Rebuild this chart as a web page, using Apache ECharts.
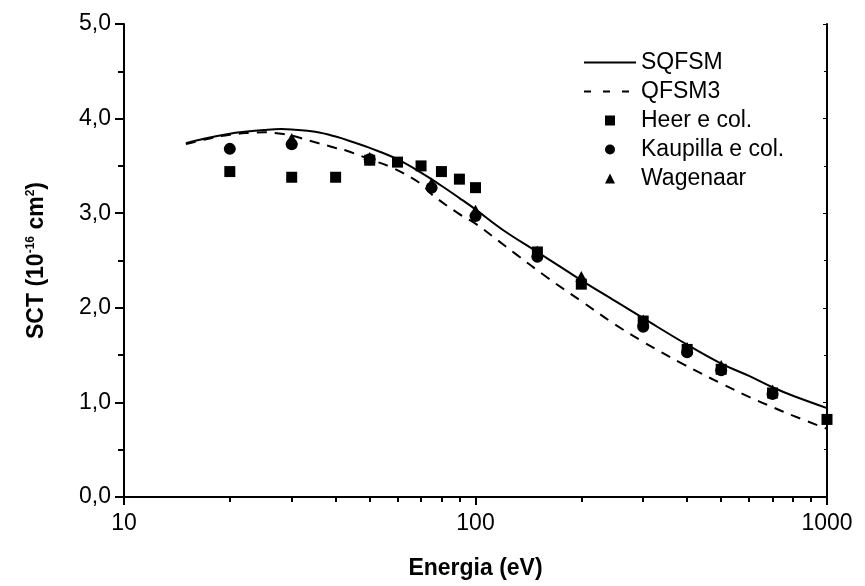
<!DOCTYPE html>
<html><head><meta charset="utf-8">
<script src="https://cdn.jsdelivr.net/npm/echarts@6/dist/echarts.min.js"></script>
<style>html,body{margin:0;padding:0;background:#fff}#c{width:865px;height:586px}</style>
</head><body><div id="c"></div>
<script>
var sqfsm = [[15,3.74],[17,3.79],[20,3.84],[22,3.86],[25,3.88],[28,3.89],[30,3.885],[35,3.86],[40,3.81],[45,3.75],[50,3.69],[60,3.57],[70,3.43],[80,3.29],[90,3.16],[100,3.04],[120,2.82],[150,2.59],[175,2.43],[200,2.29],[250,2.07],[300,1.89],[400,1.61],[500,1.41],[600,1.28],[700,1.16],[800,1.07],[1000,0.94]];
var qfsm3 = [[15,3.73],[17,3.78],[20,3.83],[23,3.85],[25,3.855],[28,3.84],[30,3.82],[35,3.75],[40,3.69],[43,3.66],[50,3.57],[58,3.48],[70,3.31],[75,3.20],[90,2.99],[100,2.89],[116,2.71],[130,2.57],[160,2.32],[200,2.07],[248,1.83],[300,1.64],[392,1.40],[500,1.20],[607,1.05],[700,0.95],[800,0.86],[1000,0.72]];
var heer = [[20,3.44],[30,3.38],[40,3.38],[50,3.56],[60,3.54],[70,3.50],[80,3.44],[90,3.36],[100,3.27],[150,2.59],[200,2.25],[300,1.86],[400,1.56],[500,1.35],[700,1.10],[1000,0.82]];
var kaupilla = [[20,3.68],[30,3.73],[50,3.57],[75,3.27],[100,2.97],[150,2.54],[300,1.80],[400,1.53],[500,1.34],[700,1.09]];
var wagenaar = [[30,3.79],[50,3.59],[75,3.32],[100,3.03],[150,2.60],[200,2.33],[300,1.87],[400,1.58],[500,1.39],[700,1.13]];
var yTicks = ['0,0','1,0','2,0','3,0','4,0','5,0'];
var xTicks = {10:'10',100:'100',1000:'1000'};

var chart = echarts.init(document.getElementById('c'), null, {renderer:'canvas'});
var font = 'Liberation Sans, Arial, sans-serif';
var tri = 'path://M0,10 L5,0 L10,10 Z';
var iconRect = 'path://M0,0 M52,14 M21,2 L31,2 L31,12 L21,12 Z';
var iconCircle = 'path://M0,0 M52,14 M21,7 A5,5 0 1,0 31,7 A5,5 0 1,0 21,7 Z';
var iconTri = 'path://M0,0 M52,14 M21,12 L26,2 L31,12 Z';
var mk = {color:'#000',opacity:1};
chart.setOption({
  animation:false,
  grid:{left:124,right:38,top:24,bottom:89,containLabel:false},
  legend:{
    left:578, top:46, orient:'vertical', itemGap:6, itemWidth:52, itemHeight:14,
    textStyle:{fontFamily:font,fontSize:23,lineHeight:23,color:'#000'},
    data:[
      {name:'SQFSM', itemStyle:{opacity:0}, lineStyle:{width:2,type:'solid',color:'#000'}},
      {name:'QFSM3', itemStyle:{opacity:0}, lineStyle:{width:2,type:[7,12],color:'#000'}},
      {name:'Heer e col.', icon:iconRect, itemStyle:{opacity:1}},
      {name:'Kaupilla e col.', icon:iconCircle, itemStyle:{opacity:1}},
      {name:'Wagenaar', icon:iconTri, itemStyle:{opacity:1}}
    ]
  },
  xAxis:[{
    type:'log', logBase:10, min:10, max:1000,
    name:'Energia (eV)', nameLocation:'middle', nameGap:60,
    nameTextStyle:{fontFamily:font,fontSize:23,fontWeight:'bold',color:'#000'},
    axisLine:{lineStyle:{color:'#000',width:2}},
    axisTick:{show:true,inside:false,length:8,lineStyle:{color:'#000',width:2}},
    minorTick:{show:true,splitNumber:9,length:5,lineStyle:{color:'#000',width:2}},
    axisLabel:{fontFamily:font,fontSize:23,color:'#000',margin:15,formatter:function(v){return xTicks[Math.round(v)]||String(v);}},
    splitLine:{show:false}
  },{
    type:'log', logBase:10, min:10, max:1000, position:'top',
    axisLine:{lineStyle:{color:'#000',width:2}},
    axisTick:{show:true,inside:true,length:3,lineStyle:{color:'#000',width:1}},
    minorTick:{show:true,splitNumber:9,length:2,lineStyle:{color:'#000',width:1}},
    axisLabel:{show:false}, splitLine:{show:false}
  }],
  yAxis:[{
    type:'value', min:0, max:5, interval:1,
    name:'SCT (10{sup|-16} cm{sup|2})', nameLocation:'middle', nameGap:76, nameRotate:90,
    nameTextStyle:{fontFamily:font,fontSize:23,fontWeight:'bold',color:'#000',
      rich:{sup:{fontFamily:font,fontSize:12,fontWeight:'bold',verticalAlign:'top',padding:[0,0,10,0]}}},
    axisLine:{show:true,lineStyle:{color:'#000',width:2}},
    axisTick:{show:true,inside:false,length:9,lineStyle:{color:'#000',width:2}},
    minorTick:{show:true,splitNumber:2,length:6,lineStyle:{color:'#000',width:2}},
    axisLabel:{fontFamily:font,fontSize:23,color:'#000',margin:13,formatter:function(v){return yTicks[Math.round(v)];}},
    splitLine:{show:false}
  },{
    type:'value', min:0, max:5, interval:1, position:'right',
    axisLine:{show:true,lineStyle:{color:'#000',width:2}},
    axisTick:{show:true,inside:true,length:4,lineStyle:{color:'#000',width:1}},
    minorTick:{show:true,splitNumber:2,length:3,lineStyle:{color:'#000',width:1}},
    axisLabel:{show:false}, splitLine:{show:false}
  }],
  series:[
    {name:'SQFSM',type:'line',data:sqfsm,smooth:0.4,showSymbol:false,symbol:'none',lineStyle:{color:'#000',width:2,type:'solid'},itemStyle:{color:'#000'},z:3},
    {name:'QFSM3',type:'line',data:qfsm3,smooth:0.4,showSymbol:false,symbol:'none',lineStyle:{color:'#000',width:2,type:[10,8]},itemStyle:{color:'#000'},z:3},
    {name:'Heer e col.',type:'scatter',data:heer,symbol:'rect',symbolSize:11,itemStyle:mk,z:4},
    {name:'Kaupilla e col.',type:'scatter',data:kaupilla,symbol:'circle',symbolSize:12,itemStyle:mk,z:4},
    {name:'Wagenaar',type:'scatter',data:wagenaar,symbol:tri,symbolSize:[12,11],itemStyle:mk,z:4}
  ]
});
</script></body></html>
